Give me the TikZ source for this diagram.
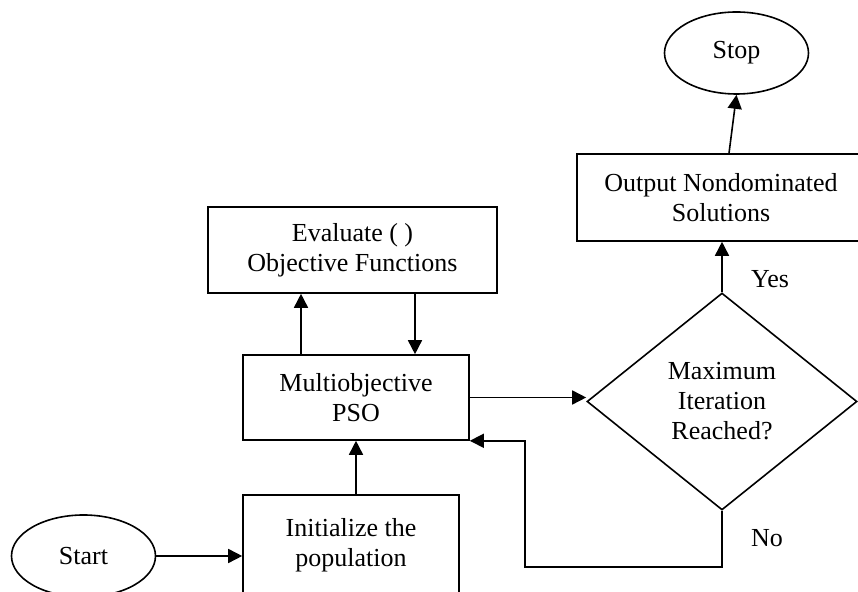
\documentclass[tikz,border=0pt]{standalone}
\usepackage{fontspec}
\setmainfont{Liberation Serif}
\usetikzlibrary{arrows.meta,shapes.geometric}

\begin{document}
\begin{tikzpicture}[x=0.5pt,y=-0.5pt,>={Triangle[length=7pt,width=7pt]},line width=0.8pt,
  every node/.style={font=\fontsize{13}{15}\selectfont,align=center},
  procbox/.style={draw,rectangle,inner sep=0pt},
  termnode/.style={draw,ellipse,inner sep=0pt,minimum width=72pt,minimum height=41pt},
  decnode/.style={draw,diamond,inner sep=0pt,minimum width=135pt,minimum height=108.5pt}]
\useasboundingbox (0,0) rectangle (858,592);
\node[termnode] (start) at (83.5,556) {Start};
\node[procbox,minimum width=108pt,minimum height=50pt] (init) at (351,545) {Initialize the\\population};
\node[procbox,minimum width=113pt,minimum height=42.5pt] (pso) at (356,397.5) {Multiobjective\\PSO};
\node[procbox,minimum width=144.5pt,minimum height=43pt] (eval) at (352.5,250) {Evaluate ( )\\Objective Functions};
\node[decnode] (dec) at (722,401.5) {Maximum\\Iteration\\Reached?};
\node[procbox,minimum width=144pt,minimum height=43.5pt] (out) at (721,197.5) {Output Nondominated\\Solutions};
\node[termnode] (stop) at (736.5,53) {Stop};
\node (yes) at (770,279) {Yes};
\node (no) at (767,538) {No};
\coordinate (fb) at (525,567);
\draw[->] (start.east) -- (start.east -| init.west);
\draw[->] (init.north -| pso.south) -- (pso.south);
\draw[->] ([xshift=-27.5pt]pso.north) -- ([xshift=-27.5pt]pso.north |- eval.south);
\draw[->] ([xshift=29.5pt]pso.north |- eval.south) -- ([xshift=29.5pt]pso.north);
\draw[->] (pso.east) -- (pso.east -| dec.west);
\draw[->] (dec.north) -- (dec.north |- out.south);
\draw[->] ([xshift=4pt]out.north) -- (stop.south);
\draw[->] (dec.south) |- (fb) |- (pso.south east);
\end{tikzpicture}
\end{document}
